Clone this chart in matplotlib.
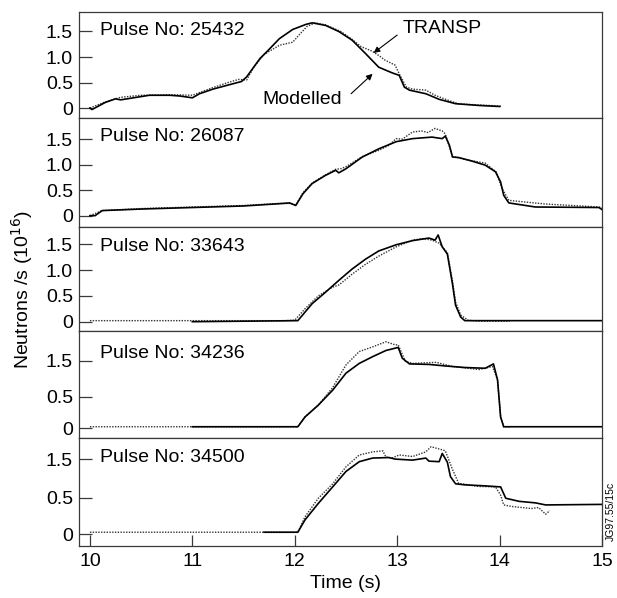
import matplotlib
matplotlib.use("agg")
import matplotlib.pyplot as plt

plt.rcParams['font.family'] = ['Liberation Sans', 'DejaVu Sans']

# ---- data (time in s, neutrons/s in 1e16) ----
pulses = ['25432', '26087', '33643', '34236', '34500']

t_mod_1 = [10.0, 10.02, 10.15, 10.25, 10.3, 10.58, 10.78, 10.88, 11.0, 11.07, 11.2, 11.33, 11.48, 11.53,
           11.66, 11.74, 11.85, 11.98, 12.11, 12.17, 12.30, 12.43, 12.56, 12.69, 12.82, 12.95, 13.02, 13.07,
           13.12, 13.28, 13.41, 13.57, 13.8, 14.0]
v_mod_1 = [0.0, -0.03, 0.11, 0.18, 0.16, 0.25, 0.25, 0.235, 0.20, 0.28, 0.37, 0.44, 0.52, 0.61,
           0.97, 1.13, 1.36, 1.54, 1.64, 1.67, 1.62, 1.50, 1.33, 1.07, 0.80, 0.69, 0.64, 0.41,
           0.35, 0.28, 0.17, 0.085, 0.05, 0.03]
t_tr_1 = [10.0, 10.15, 10.3, 10.5, 10.8, 11.0, 11.2, 11.35, 11.45, 11.53, 11.6, 11.7, 11.8, 11.85, 11.98,
          12.05, 12.12, 12.2, 12.3, 12.45, 12.55, 12.65, 12.75, 12.82, 12.88, 12.98, 13.02, 13.09, 13.15,
          13.28, 13.37, 13.5, 13.6, 13.8, 14.0, 14.02]
v_tr_1 = [0.0, 0.12, 0.21, 0.25, 0.26, 0.25, 0.40, 0.50, 0.56, 0.55, 0.80, 1.05, 1.17, 1.23, 1.29,
          1.45, 1.60, 1.67, 1.63, 1.50, 1.36, 1.20, 1.12, 1.03, 0.94, 0.84, 0.67, 0.41, 0.37,
          0.35, 0.25, 0.15, 0.08, 0.06, 0.04, 0.03]

t_mod_2 = [10.0, 10.05, 10.12, 10.5, 11.0, 11.5, 11.85, 11.95, 12.01, 12.08, 12.17, 12.30, 12.40, 12.43,
           12.50, 12.66, 12.82, 12.99, 13.15, 13.34, 13.44, 13.47, 13.51, 13.54, 13.6, 13.73, 13.86, 13.96,
           14.01, 14.04, 14.09, 14.35, 14.97, 15.0]
v_mod_2 = [0.0, 0.0, 0.10, 0.13, 0.16, 0.19, 0.235, 0.25, 0.20, 0.43, 0.63, 0.79, 0.89, 0.84,
           0.92, 1.15, 1.31, 1.45, 1.51, 1.54, 1.51, 1.56, 1.38, 1.15, 1.14, 1.07, 0.99, 0.86,
           0.66, 0.40, 0.25, 0.17, 0.16, 0.12]
t_tr_2 = [10.0, 10.12, 10.5, 11.0, 11.5, 11.85, 11.95, 12.01, 12.08, 12.17, 12.30, 12.40, 12.45, 12.5,
          12.66, 12.82, 12.92, 12.99, 13.05, 13.15, 13.24, 13.30, 13.37, 13.44, 13.47, 13.54, 13.67, 13.86,
          13.97, 14.02, 14.09, 14.44, 14.97, 15.0]
v_tr_2 = [0.0, 0.10, 0.14, 0.17, 0.20, 0.24, 0.24, 0.21, 0.45, 0.64, 0.80, 0.91, 0.92, 0.96,
          1.16, 1.28, 1.38, 1.51, 1.50, 1.64, 1.66, 1.63, 1.71, 1.66, 1.60, 1.16, 1.10, 1.03,
          0.85, 0.55, 0.30, 0.23, 0.17, 0.15]

t_mod_3 = [11.0, 12.03, 12.17, 12.30, 12.43, 12.56, 12.69, 12.82, 12.99, 13.15, 13.31, 13.37, 13.40,
           13.44, 13.49, 13.54, 13.57, 13.62, 13.66, 15.0]
v_mod_3 = [0.0, 0.02, 0.35, 0.57, 0.80, 1.02, 1.21, 1.37, 1.49, 1.57, 1.62, 1.58, 1.68,
           1.45, 1.31, 0.73, 0.32, 0.09, 0.02, 0.02]
t_tr_3 = [10.0, 11.9, 12.0, 12.1, 12.23, 12.37, 12.43, 12.56, 12.69, 12.82, 12.99, 13.15, 13.25, 13.34,
          13.41, 13.49, 13.54, 13.57, 13.62, 13.69, 13.79, 14.1]
v_tr_3 = [0.02, 0.02, 0.03, 0.25, 0.50, 0.67, 0.71, 0.92, 1.11, 1.27, 1.45, 1.58, 1.61, 1.58,
          1.52, 1.34, 0.79, 0.38, 0.13, 0.03, 0.01, 0.01]

t_mod_4 = [11.0, 12.03, 12.1, 12.23, 12.37, 12.5, 12.63, 12.76, 12.89, 13.01, 13.05, 13.12, 13.31, 13.47,
           13.66, 13.86, 13.94, 13.98, 14.01, 14.04, 15.0]
v_mod_4 = [0.03, 0.03, 0.22, 0.45, 0.74, 1.07, 1.26, 1.39, 1.51, 1.57, 1.36, 1.25, 1.24, 1.21,
           1.18, 1.165, 1.25, 0.94, 0.22, 0.03, 0.03]
t_tr_4 = [10.0, 12.03, 12.1, 12.23, 12.37, 12.5, 12.63, 12.76, 12.89, 12.98, 13.01, 13.08, 13.15, 13.38,
          13.54, 13.8, 13.93, 13.98, 14.01, 14.04, 14.1]
v_tr_4 = [0.03, 0.03, 0.22, 0.45, 0.79, 1.23, 1.49, 1.58, 1.68, 1.62, 1.62, 1.30, 1.26, 1.28,
          1.20, 1.14, 1.20, 0.94, 0.22, 0.03, 0.03]

t_mod_5 = [11.7, 12.03, 12.1, 12.23, 12.37, 12.5, 12.63, 12.76, 12.92, 12.98, 13.15, 13.28, 13.31, 13.41,
           13.44, 13.49, 13.52, 13.57, 13.66, 13.86, 14.01, 14.06, 14.19, 14.35, 14.45, 14.97, 15.0]
v_mod_5 = [0.04, 0.04, 0.28, 0.60, 0.92, 1.22, 1.41, 1.48, 1.49, 1.46, 1.44, 1.48, 1.42, 1.41,
           1.57, 1.40, 1.12, 0.98, 0.96, 0.94, 0.92, 0.70, 0.64, 0.61, 0.57, 0.58, 0.58]
t_tr_5 = [10.0, 12.03, 12.1, 12.23, 12.37, 12.5, 12.63, 12.76, 12.86, 12.89, 12.95, 13.02, 13.15, 13.28,
          13.33, 13.44, 13.47, 13.54, 13.6, 13.79, 13.96, 14.01, 14.04, 14.12, 14.31, 14.38, 14.45, 14.49]
v_tr_5 = [0.04, 0.04, 0.34, 0.70, 0.98, 1.31, 1.54, 1.60, 1.62, 1.50, 1.48, 1.54, 1.51, 1.60,
          1.70, 1.64, 1.62, 1.26, 0.99, 0.93, 0.92, 0.76, 0.57, 0.54, 0.50, 0.52, 0.39, 0.46]

modelled = [(t_mod_1, v_mod_1), (t_mod_2, v_mod_2), (t_mod_3, v_mod_3), (t_mod_4, v_mod_4), (t_mod_5, v_mod_5)]
transp = [(t_tr_1, v_tr_1), (t_tr_2, v_tr_2), (t_tr_3, v_tr_3), (t_tr_4, v_tr_4), (t_tr_5, v_tr_5)]

# tick positions / labels as printed on each panel
ytick_pos = [[0, 0.5, 1.0, 1.5], [0, 0.5, 1.0, 1.5], [0, 0.5, 1.0, 1.5], [0, 0.614, 1.313], [0, 0.711, 1.456]]
ytick_lab = [['0', '0.5', '1.0', '1.5'], ['0', '0.5', '1.0', '1.5'], ['0', '0.5', '1.0', '1.5'],
             ['0', '0.5', '1.5'], ['0', '0.5', '1.5']]
ylims = [(-0.19, 1.876), (-0.216, 1.92), (-0.186, 1.84), (-0.194, 1.883), (-0.221, 1.864)]
heights = [105.4, 109, 104.6, 107, 107.4]
label_y = [0.832, 0.826, 0.815, 0.794, 0.823]

fig = plt.figure(figsize=(6.17, 5.98), dpi=100)
gs = fig.add_gridspec(5, 1, height_ratios=heights, hspace=0,
                      left=0.1275, right=0.9757, top=0.9794, bottom=0.0875)

spine_col = '#3a3a3a'
axes = []
for i in range(5):
    ax = fig.add_subplot(gs[i, 0])
    axes.append(ax)
    tm, vm = modelled[i]
    tt, vt = transp[i]
    ax.plot(tt, vt, color='#333333', lw=1.0, ls=(0, (1, 1)))
    ax.plot(tm, vm, color='black', lw=1.2)
    ax.set_xlim(9.89, 15.0)
    ax.set_ylim(ylims[i])
    ax.set_yticks(ytick_pos[i])
    ax.set_yticklabels(ytick_lab[i])
    ax.tick_params(axis='y', direction='in', length=9.5, width=0.9, color=spine_col,
                   labelsize=14, pad=4)
    if i < 4:
        ax.set_xticks([])
    else:
        ax.set_xticks([10, 11, 12, 13, 14, 15])
        ax.tick_params(axis='x', direction='in', length=8, width=0.9, color=spine_col,
                       labelsize=14, pad=5.5)
    for s in ax.spines.values():
        s.set_color(spine_col)
        s.set_linewidth(0.9)
    ax.text(0.0407, label_y[i], 'Pulse No: ' + pulses[i], transform=ax.transAxes,
            fontsize=14, va='center', ha='left')

ax0 = axes[0]
arrow = dict(arrowstyle='-|>', lw=0.8, color='black', mutation_scale=9, shrinkA=0, shrinkB=0)
ax0.annotate('', xy=(12.77, 1.08), xytext=(13.0, 1.43), arrowprops=arrow)
ax0.text(13.057, 1.555, 'TRANSP', fontsize=14, va='center', ha='left')
ax0.annotate('', xy=(12.76, 0.67), xytext=(12.55, 0.28), arrowprops=arrow)
ax0.text(12.07, 0.17, 'Modelled', fontsize=14, va='center', ha='center')

fig.text(22.5 / 617, 0.515, 'Neutrons /s (10$^{16}$)', rotation=90, fontsize=14,
         ha='center', va='center')
fig.text(346 / 617, 1 - 583 / 598, 'Time (s)', fontsize=14, ha='center', va='center')
fig.text(611 / 617, 1 - 511 / 598, 'JG97.55/15c', rotation=90, fontsize=7.5,
         ha='center', va='center')

plt.savefig('out.png', dpi=100)
plt.close()
